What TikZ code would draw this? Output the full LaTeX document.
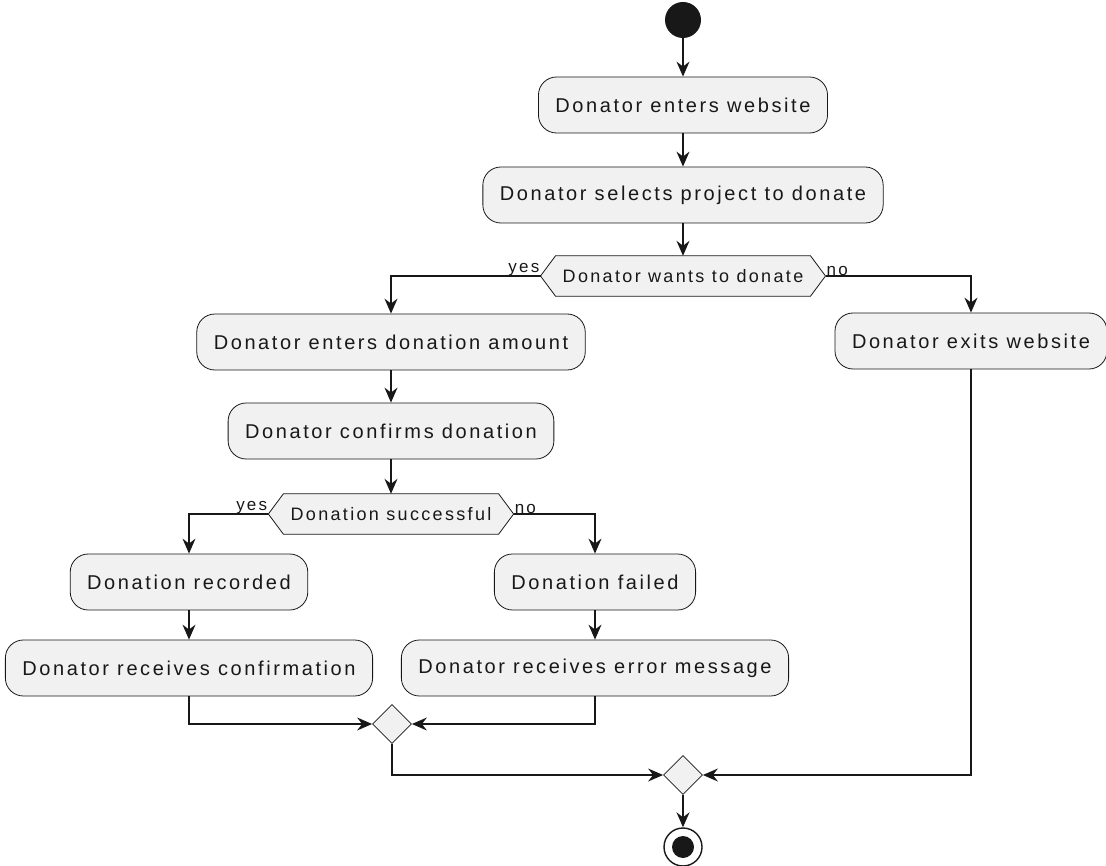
\documentclass[tikz,border=0pt]{standalone}
\usepackage{fontspec}
\setmainfont{Liberation Sans}[LetterSpace=13]
\usetikzlibrary{arrows.meta,shapes.geometric,backgrounds,calc}
\definecolor{umlfill}{HTML}{F1F1F1}
\definecolor{umlline}{HTML}{181818}
\begin{document}
\begin{tikzpicture}[x=1pt,y=-1pt,
  every node/.style={text=umlline},
  action/.style={draw=umlline, line width=0.8pt, fill=umlfill, rounded corners=18pt,
    minimum height=56pt, inner xsep=17pt, inner ysep=0pt, font=\fontsize{20}{22}\selectfont},
  decision/.style={minimum height=40pt, inner xsep=22pt, inner ysep=0pt, font=\fontsize{18}{20}\selectfont},
  hexshape/.style={draw=umlline, line width=0.8pt, fill=umlfill},
  merge/.style={diamond, draw=umlline, line width=0.8pt, fill=umlfill, minimum width=39pt, minimum height=39pt, inner sep=0pt},
  guard/.style={font=\fontsize{17}{19}\selectfont, inner sep=1pt},
  flow/.style={draw=umlline, line width=1.4pt, -{Stealth[length=15pt,width=13pt,inset=5pt]}}
]
\useasboundingbox (0,0) rectangle (1106,866);

% start and end points
\node[circle, fill=umlline, minimum size=36pt, inner sep=0pt] (start) at (683,20) {};
\node[circle, draw=umlline, line width=1.4pt, fill=white, minimum size=38pt, inner sep=0pt] (stop) at (683,847) {};
\node[circle, fill=umlline, minimum size=22pt, inner sep=0pt] at (stop) {};

% actions
\node[action] (enter) at (683,105) {Donator enters website};
\node[action] (select) at (683,195) {Donator selects project to donate};
\node[action] (amount) at (391,342) {Donator enters donation amount};
\node[action] (exit) at (971,341) {Donator exits website};
\node[action] (confirm) at (391,431) {Donator confirms donation};
\node[action] (recorded) at (189,582) {Donation recorded};
\node[action] (failed) at (595,582) {Donation failed};
\node[action] (receipt) at (189,668) {Donator receives confirmation};
\node[action] (error) at (595,668) {Donator receives error message};

% decisions: hexagon outlines drawn behind their labels
\node[decision] (wants) at (683,276) {Donator wants to donate};
\node[decision] (success) at (391,514) {Donation successful};
\begin{scope}[on background layer]
  \foreach \d in {wants,success}{
    \draw[hexshape] (\d.west) -- ([xshift=15pt]\d.north west) -- ([xshift=-15pt]\d.north east)
      -- (\d.east) -- ([xshift=-15pt]\d.south east) -- ([xshift=15pt]\d.south west) -- cycle;
  }
\end{scope}

% merge points
\node[merge] (join) at (392,724) {};
\node[merge] (final) at (683,775) {};

% flows
\draw[flow] (start) -- (enter);
\draw[flow] (enter) -- (select);
\draw[flow] (select) -- (wants);
\draw[flow] (wants.west) -| (amount.north);
\node[guard, anchor=south east] at ([yshift=-1pt]wants.west) {yes};
\draw[flow] (wants.east) -| (exit.north);
\node[guard, anchor=south west] at ([yshift=-1pt]wants.east) {no};
\draw[flow] (amount) -- (confirm);
\draw[flow] (confirm) -- (success);
\draw[flow] (success.west) -| (recorded.north);
\node[guard, anchor=south east] at ([yshift=-1pt]success.west) {yes};
\draw[flow] (success.east) -| (failed.north);
\node[guard, anchor=south west] at ([yshift=-1pt]success.east) {no};
\draw[flow] (recorded) -- (receipt);
\draw[flow] (failed) -- (error);
\draw[flow] (receipt.south) |- (join.west);
\draw[flow] (error.south) |- (join.east);
\draw[flow] (join.south) |- (final.west);
\draw[flow] (exit.south) |- (final.east);
\draw[flow] (final) -- (stop);
\end{tikzpicture}
\end{document}
